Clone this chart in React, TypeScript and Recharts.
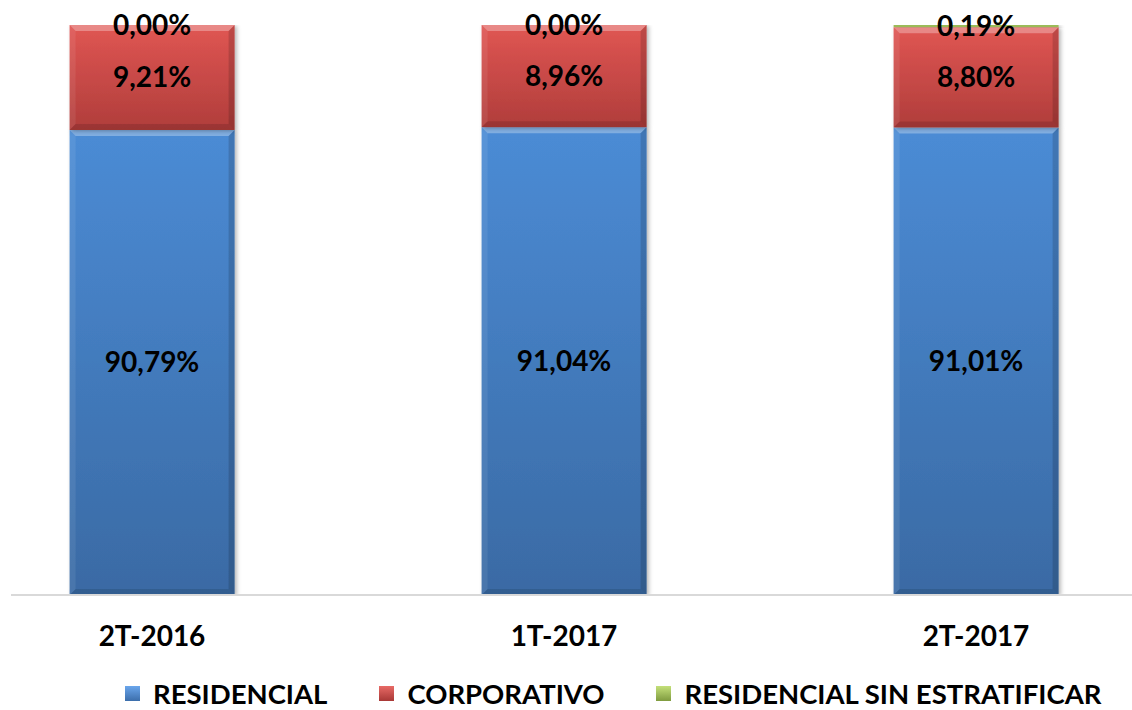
import { BarChart, Bar, XAxis, YAxis, LabelList, Legend } from 'recharts';

const categories = ['2T-2016', '1T-2017', '2T-2017'];
const residencial = [90.79, 91.04, 91.01];
const corporativo = [9.21, 8.96, 8.8];
const sinEstratificar = [0, 0, 0.19];

const seriesNames = ['RESIDENCIAL', 'CORPORATIVO', 'RESIDENCIAL SIN ESTRATIFICAR'];

// the value axis of the original starts at 50%
const Y_MIN = 50;
const Y_MAX = 100;

const FONT = 'Lato, "Liberation Sans", Arial, sans-serif';

const data = categories.map((name, i) => ({
  name,
  residencial: residencial[i],
  corporativo: corporativo[i],
  sinEstratificar: sinEstratificar[i],
}));

const fmt = (v: any) => `${Number(v).toFixed(2).replace('.', ',')}%`;

const legendColors = [
  ['#6aa6ec', '#3c6eab'],
  ['#e86a66', '#a83836'],
  ['#c4e07a', '#7f9b3f'],
];

// bar with a bevelled look like the office chart
function BevelBar(props: any) {
  const { x, y, width, height, fill } = props;
  if (!height || height <= 0) return null;
  const b = Math.min(6, height / 2);
  return (
    <g filter="url(#barShadow)">
      <rect x={x} y={y} width={width} height={height} fill={fill} />
      {height > 4 && (
        <>
          <polygon
            points={`${x},${y} ${x + width},${y} ${x + width - b},${y + b} ${x + b},${y + b}`}
            fill="#fff"
            fillOpacity={0.3}
          />
          <polygon
            points={`${x},${y} ${x + b},${y + b} ${x + b},${y + height - b} ${x},${y + height}`}
            fill="#fff"
            fillOpacity={0.08}
          />
          <polygon
            points={`${x + width},${y} ${x + width - b},${y + b} ${x + width - b},${y + height - b} ${x + width},${y + height}`}
            fill="#000"
            fillOpacity={0.15}
          />
          <polygon
            points={`${x},${y + height} ${x + b},${y + height - b} ${x + width - b},${y + height - b} ${x + width},${y + height}`}
            fill="#000"
            fillOpacity={0.12}
          />
        </>
      )}
    </g>
  );
}

function LegendContent() {
  return (
    <div
      style={{
        display: 'flex',
        alignItems: 'center',
        height: 45,
        paddingLeft: 125,
        boxSizing: 'border-box',
        paddingTop: 12,
        fontFamily: FONT,
        fontWeight: 'bold',
        fontSize: 27.5,
        lineHeight: 1,
        color: '#000',
        whiteSpace: 'nowrap',
      }}
    >
      {seriesNames.map((n, i) => (
        <div key={n} style={{ display: 'flex', alignItems: 'center', marginRight: 52 }}>
          <span
            style={{
              display: 'inline-block',
              width: 15,
              height: 15,
              marginRight: 13,
              background: `linear-gradient(${legendColors[i][0]}, ${legendColors[i][1]})`,
            }}
          />
          <span>{n}</span>
        </div>
      ))}
    </div>
  );
}

const labelStyle = { fontFamily: FONT, fontWeight: 'bold', fontSize: 28, fill: '#000' };

export default function App() {
  return (
    <div
      style={{
        position: 'absolute',
        left: 0,
        top: 0,
        width: 1132,
        height: 710,
        overflow: 'hidden',
        background: '#fff',
      }}
    >
      <BarChart
        width={1132}
        height={710}
        data={data}
        margin={{ top: 25, right: 0, left: 11, bottom: 0 }}
        barCategoryGap="30%"
      >
        <defs>
          <linearGradient id="gBlue" gradientUnits="userSpaceOnUse" x1="0" y1="25" x2="0" y2="595">
            <stop offset="0%" stopColor="#4f93e0" />
            <stop offset="100%" stopColor="#3a6aa4" />
          </linearGradient>
          <linearGradient id="gRed" x1="0" y1="0" x2="0" y2="1">
            <stop offset="0%" stopColor="#e05653" />
            <stop offset="100%" stopColor="#b03d3b" />
          </linearGradient>
          <filter id="barShadow" x="-10%" y="-10%" width="120%" height="120%">
            <feDropShadow dx="2" dy="1" stdDeviation="2" floodColor="#000" floodOpacity="0.3" />
          </filter>
        </defs>
        <XAxis
          dataKey="name"
          padding={{ left: -65, right: -50 }}
          height={70}
          tickLine={false}
          tickSize={0}
          tickMargin={31}
          axisLine={{ stroke: '#d9d9d9', strokeWidth: 2 }}
          tick={{ fontFamily: FONT, fontWeight: 'bold', fontSize: 28, fill: '#000' }}
        />
        <YAxis hide domain={[Y_MIN, Y_MAX]} allowDataOverflow />
        <Legend
          verticalAlign="bottom"
          content={<LegendContent />}
          wrapperStyle={{ left: 0, bottom: 0, width: 1132, height: 45 }}
        />
        <Bar dataKey="residencial" stackId="a" fill="url(#gBlue)" shape={<BevelBar />} isAnimationActive={false}>
          <LabelList dataKey="residencial" position="center" formatter={fmt} style={labelStyle} />
        </Bar>
        <Bar dataKey="corporativo" stackId="a" fill="url(#gRed)" shape={<BevelBar />} isAnimationActive={false}>
          <LabelList dataKey="corporativo" position="center" formatter={fmt} style={labelStyle} />
        </Bar>
        <Bar dataKey="sinEstratificar" stackId="a" fill="#9bbb59" shape={<BevelBar />} isAnimationActive={false}>
          <LabelList dataKey="sinEstratificar" position="center" formatter={fmt} style={labelStyle} />
        </Bar>
      </BarChart>
    </div>
  );
}
